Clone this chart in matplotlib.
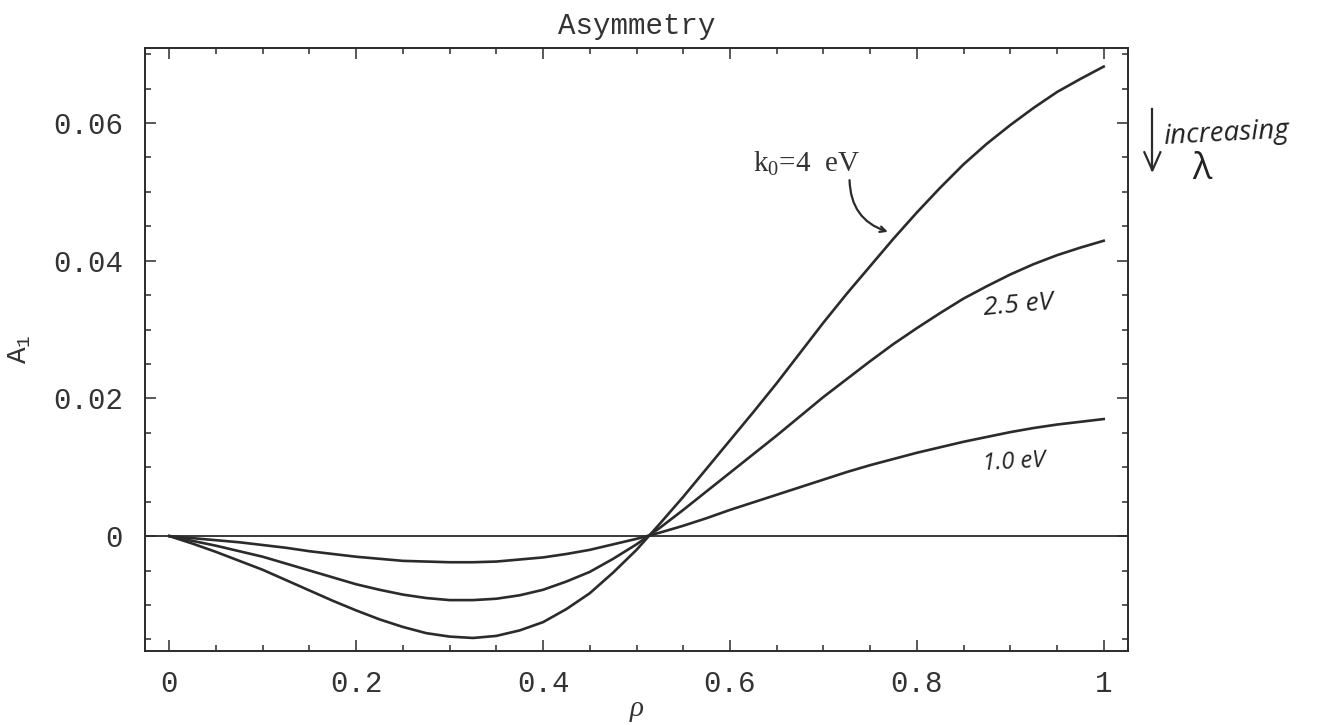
import matplotlib
matplotlib.use("Agg")
import matplotlib.pyplot as plt
from matplotlib.ticker import MultipleLocator, FixedLocator, FixedFormatter

# datos (rho cada 0.025)
rho = [i * 0.025 for i in range(41)]
a1_4ev = [0.0, -0.0011, -0.0023, -0.0036, -0.0049, -0.0064, -0.0079, -0.0094,
          -0.0108, -0.0121, -0.0132, -0.0141, -0.0146, -0.0148, -0.0145, -0.0137,
          -0.0125, -0.0106, -0.0083, -0.0053, -0.0020, 0.0018, 0.0057, 0.0098,
          0.0139, 0.0180, 0.0222, 0.0266, 0.0310, 0.0352, 0.0392, 0.0432,
          0.0470, 0.0506, 0.0540, 0.0570, 0.0597, 0.0622, 0.0645, 0.0664, 0.0682]
a1_25ev = [0.0, -0.0007, -0.0014, -0.0022, -0.0030, -0.0040, -0.0050, -0.0060,
           -0.0070, -0.0078, -0.0085, -0.0090, -0.0093, -0.0093, -0.0091, -0.0086,
           -0.0078, -0.0066, -0.0052, -0.0033, -0.0012, 0.0012, 0.0038, 0.0065,
           0.0092, 0.0119, 0.0146, 0.0174, 0.0202, 0.0228, 0.0254, 0.0279,
           0.0302, 0.0324, 0.0345, 0.0363, 0.0380, 0.0395, 0.0408, 0.0419, 0.0429]
a1_1ev = [0.0, -0.0003, -0.0006, -0.0009, -0.0013, -0.0017, -0.0022, -0.0026,
          -0.0030, -0.0033, -0.0036, -0.0037, -0.0038, -0.0038, -0.0037, -0.0034,
          -0.0031, -0.0026, -0.0020, -0.0012, -0.0004, 0.0005, 0.0015, 0.0026,
          0.0038, 0.0049, 0.0060, 0.0071, 0.0082, 0.0093, 0.0103, 0.0112,
          0.0121, 0.0129, 0.0137, 0.0144, 0.0151, 0.0157, 0.0162, 0.0166, 0.0170]

xticks = [0, 0.2, 0.4, 0.6, 0.8, 1.0]
xlabels = ["0", "0.2", "0.4", "0.6", "0.8", "1"]
yticks = [0, 0.02, 0.04, 0.06]
ylabels = ["0", "0.02", "0.04", "0.06"]

mono = "Liberation Mono"
tinta = "#2b2b2b"

fig = plt.figure(figsize=(13.33, 7.25), dpi=100)
ax = fig.add_axes([0.1088, 0.102, 0.7374, 0.8318])

ax.axhline(0, color=tinta, lw=1.3)
for serie in [a1_4ev, a1_25ev, a1_1ev]:
    ax.plot(rho, serie, color=tinta, lw=1.9, solid_joinstyle="round")

ax.set_xlim(-0.026, 1.026)
ax.set_ylim(-0.0167, 0.0709)

ax.xaxis.set_major_locator(FixedLocator(xticks))
ax.xaxis.set_major_formatter(FixedFormatter(xlabels))
ax.xaxis.set_minor_locator(MultipleLocator(0.05))
ax.yaxis.set_major_locator(FixedLocator(yticks))
ax.yaxis.set_major_formatter(FixedFormatter(ylabels))
ax.yaxis.set_minor_locator(MultipleLocator(0.005))

ax.tick_params(which="both", direction="in", top=True, right=True, color=tinta, width=1.1)
ax.tick_params(which="major", length=8, pad=14, labelsize=21, labelcolor="#333333")
ax.tick_params(which="minor", length=4)
ax.tick_params(axis="y", which="major", pad=16)
for lbl in ax.get_xticklabels() + ax.get_yticklabels():
    lbl.set_family(mono)
for s in ax.spines.values():
    s.set_linewidth(1.4)
    s.set_color(tinta)

ax.set_title("Asymmetry", family=mono, fontsize=21, color="#333333", pad=10)
ax.set_xlabel("ρ", family="Liberation Serif", style="italic", fontsize=21,
              color="#333333", labelpad=-2)
ax.set_ylabel(r"$\mathregular{A_1}$", family=mono, fontsize=20, color="#333333",
              labelpad=14)

# etiquetas de las curvas
ax.text(0.625, 0.0529, r"$\mathregular{k_0}$=4  eV", family="Liberation Serif",
        fontsize=21, color="#333333")
ax.annotate("", xy=(0.769, 0.0442), xytext=(0.728, 0.0517),
            arrowprops=dict(arrowstyle="->", color=tinta, lw=1.6,
                            connectionstyle="arc3,rad=0.35", shrinkA=0, shrinkB=0))
ax.text(0.87, 0.0335, "2.5 eV", family="Open Sans", style="italic", fontsize=19,
        color="#222222", rotation=5, va="center")
ax.text(0.87, 0.0107, "1.0 eV", family="Open Sans", style="italic", fontsize=17,
        color="#222222", rotation=3, va="center")

# nota a mano: flecha hacia abajo, "increasing lambda"
fig.add_artist(plt.Line2D([0.8645, 0.8645], [0.85, 0.765], color=tinta, lw=1.6))
fig.add_artist(plt.Line2D([0.8585, 0.8645, 0.8705], [0.79, 0.765, 0.79],
                          color=tinta, lw=1.6))
fig.text(0.872, 0.815, "increasing", family="Open Sans", style="italic",
         fontsize=20, color="#222222", va="center", rotation=3)
fig.text(0.902, 0.765, "λ", family="Open Sans", fontsize=26, color="#222222",
         va="center", ha="center")

fig.savefig("out.png", dpi=100, facecolor="white")
